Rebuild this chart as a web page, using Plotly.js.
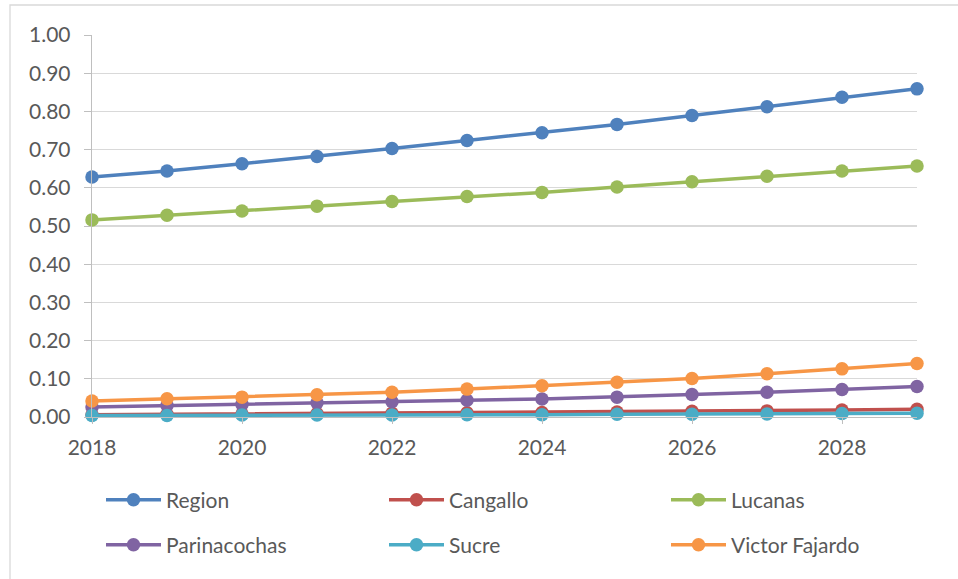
<!DOCTYPE html>
<html>
<head>
<meta charset="utf-8">
<script src="https://cdn.plot.ly/plotly-3.0.1.min.js"></script>
<style>
  html, body { margin: 0; padding: 0; background: #ffffff; }
  #chart { width: 958px; height: 579px; }
</style>
</head>
<body>
<div id="chart"></div>
<script>
// Years on the horizontal axis
const years = [2018, 2019, 2020, 2021, 2022, 2023, 2024, 2025, 2026, 2027, 2028, 2029];

// Series values per province / region
const region        = [0.628, 0.644, 0.663, 0.682, 0.703, 0.724, 0.744, 0.766, 0.789, 0.812, 0.837, 0.859];
const cangallo      = [0.006, 0.007, 0.008, 0.009, 0.010, 0.011, 0.012, 0.013, 0.015, 0.016, 0.018, 0.020];
const lucanas       = [0.516, 0.528, 0.539, 0.552, 0.564, 0.577, 0.588, 0.602, 0.616, 0.630, 0.644, 0.657];
const parinacochas  = [0.026, 0.030, 0.033, 0.037, 0.040, 0.044, 0.047, 0.052, 0.059, 0.065, 0.072, 0.080];
const sucre         = [0.004, 0.004, 0.005, 0.005, 0.005, 0.006, 0.006, 0.007, 0.007, 0.008, 0.009, 0.010];
const victorFajardo = [0.042, 0.048, 0.052, 0.058, 0.065, 0.073, 0.082, 0.091, 0.101, 0.113, 0.126, 0.140];

const seriesNames = ['Region', 'Cangallo', 'Lucanas', 'Parinacochas', 'Sucre', 'Victor Fajardo'];
const seriesValues = [region, cangallo, lucanas, parinacochas, sucre, victorFajardo];
const seriesColors = ['#4F81BD', '#C0504D', '#9BBB59', '#8064A2', '#4BACC6', '#F79646'];

const FONT = 'Lato, "Open Sans", sans-serif';
const TEXT = '#595959';
const FONT_SIZE = 21;

// one legend box per series, laid out as a 3 x 2 grid under the plot
const legendIds = ['legend', 'legend2', 'legend3', 'legend4', 'legend5', 'legend6'];
const legendColsPx = [101, 384, 666];
const legendRowsPx = [500, 545];

const traces = seriesNames.map((name, i) => ({
  type: 'scatter',
  mode: 'lines+markers',
  name: name,
  x: years,
  y: seriesValues[i],
  line: { color: seriesColors[i], width: 3.5 },
  marker: { color: seriesColors[i], size: 13.5 },
  cliponaxis: false,
  legend: legendIds[i]
}));

const layout = {
  width: 958,
  height: 579,
  margin: { l: 92, r: 41, t: 35, b: 162 },
  paper_bgcolor: '#ffffff',
  plot_bgcolor: '#ffffff',
  font: { family: FONT, size: FONT_SIZE, color: TEXT },
  showlegend: true,
  xaxis: {
    range: [2018, 2029],
    tick0: 2018,
    dtick: 2,
    showgrid: false,
    zeroline: false,
    showline: true,
    linecolor: '#BFBFBF',
    linewidth: 1.3,
    ticks: 'outside',
    ticklen: 6,
    tickcolor: '#BFBFBF',
    tickfont: { family: FONT, size: FONT_SIZE, color: TEXT },
    ticklabelstandoff: 5
  },
  yaxis: {
    range: [0, 1],
    dtick: 0.1,
    tickformat: '.2f',
    showgrid: true,
    gridcolor: '#D9D9D9',
    gridwidth: 1.3,
    zeroline: false,
    showline: true,
    linecolor: '#BFBFBF',
    linewidth: 1.3,
    ticks: 'outside',
    ticklen: 7,
    tickcolor: '#BFBFBF',
    tickfont: { family: FONT, size: FONT_SIZE, color: TEXT },
    ticklabelstandoff: 9
  },
  shapes: [{
    // thin frame around the chart area
    type: 'rect',
    xref: 'paper', yref: 'paper',
    x0: (10 - 92) / 825, x1: (965 - 92) / 825,
    y0: (417 - 590) / 382, y1: (417 - 5) / 382,
    line: { color: '#D9D9D9', width: 1.3 },
    fillcolor: 'rgba(0,0,0,0)',
    layer: 'below'
  }]
};

legendIds.forEach((id, i) => {
  layout[id] = {
    orientation: 'h',
    xref: 'container',
    yref: 'container',
    xanchor: 'left',
    yanchor: 'middle',
    x: legendColsPx[i % 3] / 958,
    y: 1 - legendRowsPx[Math.floor(i / 3)] / 579,
    itemwidth: 55,
    bgcolor: 'rgba(0,0,0,0)',
    font: { family: FONT, size: FONT_SIZE, color: TEXT }
  };
});

Plotly.newPlot('chart', traces, layout, { displayModeBar: false, staticPlot: true });
</script>
</body>
</html>
